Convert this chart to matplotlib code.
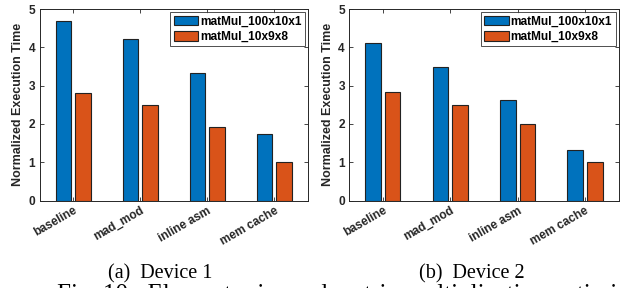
import matplotlib
matplotlib.use("Agg")
import matplotlib.pyplot as plt
import numpy as np

categories = ["baseline", "mad_mod", "inline asm", "mem cache"]
series_names = ["matMul_100x10x1", "matMul_10x9x8"]
dev1_100x10x1 = [4.68, 4.22, 3.33, 1.74]
dev1_10x9x8 = [2.80, 2.49, 1.92, 1.00]
dev2_100x10x1 = [4.12, 3.48, 2.63, 1.33]
dev2_10x9x8 = [2.83, 2.50, 2.00, 1.00]
captions = ["(a)  Device 1", "(b)  Device 2"]
fig_caption = "Fig. 10:  Element-wise and matrix multiplication optimizations"
yticks = [0, 1, 2, 3, 4, 5]

colors = ["#0072BD", "#D95319"]
plt.rcParams["font.family"] = ["Liberation Sans", "DejaVu Sans"]

fig = plt.figure(figsize=(6.26, 2.88), dpi=100)
axes_rects = [
    [39.5 / 626, 87.5 / 288, 268.5 / 626, 191.5 / 288],
    [349 / 626, 87.5 / 288, 269.7 / 626, 191.5 / 288],
]
caption_x = [160 / 626, 472 / 626]
data = [(dev1_100x10x1, dev1_10x9x8), (dev2_100x10x1, dev2_10x9x8)]
frame_col = "#262626"
fs = 8.6

for i, (rect, (s1, s2)) in enumerate(zip(axes_rects, data)):
    ax = fig.add_axes(rect)
    x = np.arange(1, len(categories) + 1)
    w = 0.23
    off = 0.145
    ax.bar(x - off, s1, w, color=colors[0], edgecolor="#222222", linewidth=0.8,
           label=series_names[0], zorder=3)
    ax.bar(x + off, s2, w, color=colors[1], edgecolor="#222222", linewidth=0.8,
           label=series_names[1], zorder=3)
    ax.set_xlim(0.5, 4.5)
    ax.set_ylim(0, 5)
    ax.set_yticks(yticks)
    ax.set_xticks(x)
    ax.set_xticklabels(categories, rotation=30, ha="right", rotation_mode="anchor",
                       fontweight="bold", fontsize=fs, color=frame_col)
    for lab in ax.get_yticklabels():
        lab.set_fontweight("bold")
        lab.set_fontsize(fs)
        lab.set_color(frame_col)
    ax.tick_params(direction="in", top=True, right=True, length=3, width=0.6,
                   color=frame_col, pad=3)
    for sp in ax.spines.values():
        sp.set_linewidth(0.7)
        sp.set_color(frame_col)
    ax.set_ylabel("Normalized Execution Time", fontweight="bold", fontsize=9,
                  color=frame_col, labelpad=3)
    leg = ax.legend(loc="upper right", prop={"weight": "bold", "size": fs},
                    frameon=True, fancybox=False, edgecolor="#222222",
                    handlelength=2.05, handleheight=0.9, handletextpad=0.15,
                    borderpad=0.3, labelspacing=0.25, borderaxespad=0.25)
    leg.get_frame().set_linewidth(0.7)
    fig.text(caption_x[i], 10 / 288, captions[i], family="Liberation Serif", fontsize=14.5,
             ha="center", va="baseline", color="black")

fig.text(57 / 626, -12.5 / 288, fig_caption,
         family="Liberation Serif", fontsize=18, ha="left", va="baseline", color="black")

fig.savefig("out.png", dpi=100)
